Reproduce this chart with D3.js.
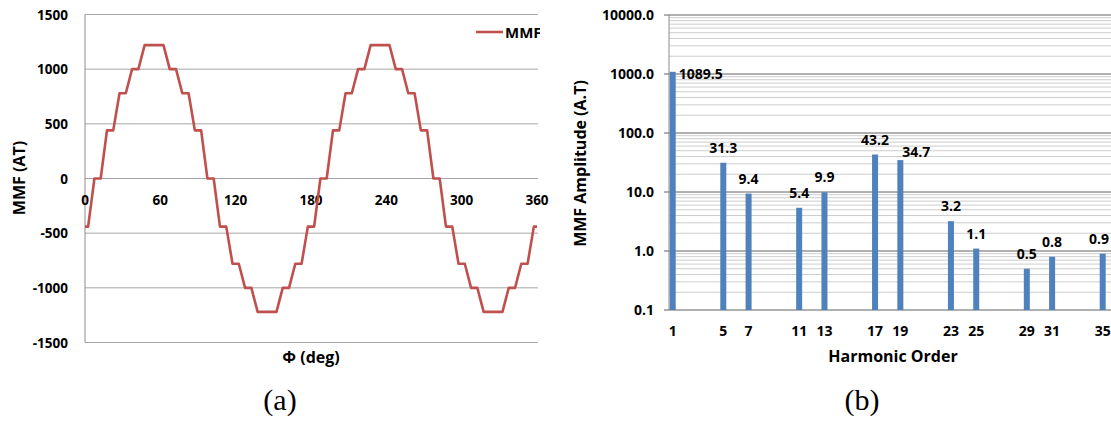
<!DOCTYPE html>
<html>
<head>
<meta charset="utf-8">
<script src="https://cdn.jsdelivr.net/npm/d3@7"></script>
<style>
  body { margin: 0; background: #fff; }
  text { font-family: "Open Sans", sans-serif; font-weight: bold; fill: #000; }
</style>
</head>
<body>
<div id="chart"></div>
<script>
// (a) MMF waveform, vertices
var mmfAngle = [0, 2.5, 7.5, 12.5, 17.5, 22.5, 27.5, 32.5, 37.5, 42.5, 47.5, 52.5, 57.5, 62.5,
  67.5, 72.5, 77.5, 82.5, 87.5, 92.5, 97.5, 102.5, 107.5, 112.5, 117.5, 122.5, 127.5, 132.5,
  137.5, 142.5, 147.5, 152.5, 157.5, 162.5, 167.5, 172.5, 177.5, 182.5, 187.5, 192.5, 197.5,
  202.5, 207.5, 212.5, 217.5, 222.5, 227.5, 232.5, 237.5, 242.5, 247.5, 252.5, 257.5, 262.5,
  267.5, 272.5, 277.5, 282.5, 287.5, 292.5, 297.5, 302.5, 307.5, 312.5, 317.5, 322.5, 327.5,
  332.5, 337.5, 342.5, 347.5, 352.5, 357.5, 360];
var mmfValue = [-440, -440, 0, 0, 440, 440, 780, 780, 1000, 1000, 1220, 1220, 1220, 1220,
  1000, 1000, 780, 780, 440, 440, 0, 0, -440, -440, -780, -780, -1000, -1000,
  -1220, -1220, -1220, -1220, -1000, -1000, -780, -780, -440, -440, 0, 0, 440,
  440, 780, 780, 1000, 1000, 1220, 1220, 1220, 1220, 1000, 1000, 780, 780,
  440, 440, 0, 0, -440, -440, -780, -780, -1000, -1000, -1220, -1220, -1220,
  -1220, -1000, -1000, -780, -780, -440, -440];
var angleTicks = [0, 60, 120, 180, 240, 300, 360];
var mmfTicks = [-1500, -1000, -500, 0, 500, 1000, 1500];

// (b) harmonic spectrum
var harmonics = [1, 5, 7, 11, 13, 17, 19, 23, 25, 29, 31, 35];
var amplitudes = [1089.5, 31.3, 9.4, 5.4, 9.9, 43.2, 34.7, 3.2, 1.1, 0.5, 0.8, 0.9];
var ampTicks = [0.1, 1, 10, 100, 1000, 10000];

var W = 1111, H = 421;
var svg = d3.select("#chart").append("svg").attr("width", W).attr("height", H);
svg.append("rect").attr("width", W).attr("height", H).attr("fill", "#fff");

// ---------- (a) ----------
var xa = d3.scaleLinear().domain([0, 360]).range([85, 537]);
var ya = d3.scaleLinear().domain([-1500, 1500]).range([342.5, 14.5]);

// 图例文字在原图里被右边截掉
svg.append("defs").append("clipPath").attr("id", "clipA")
  .append("rect").attr("x", 0).attr("y", 0).attr("width", 540).attr("height", 60);
var ga = svg.append("g");

// 横向网格
ga.selectAll(".hgrid").data(mmfTicks).enter().append("line")
  .attr("x1", xa(0)).attr("x2", 538)
  .attr("y1", ya).attr("y2", ya)
  .attr("stroke", "#a6a6a6").attr("stroke-width", 1);
// 左轴线
ga.append("line").attr("x1", xa(0)).attr("x2", xa(0))
  .attr("y1", ya(1500)).attr("y2", ya(-1500))
  .attr("stroke", "#8c8c8c").attr("stroke-width", 1);

ga.selectAll(".ylab").data(mmfTicks).enter().append("text")
  .attr("x", 68).attr("y", function (d) { return ya(d) + 5; })
  .attr("text-anchor", "end").attr("font-size", 13.5).text(function (d) { return d; });

ga.selectAll(".xlab").data(angleTicks).enter().append("text")
  .attr("x", xa).attr("y", ya(0) + 26)
  .attr("text-anchor", "middle").attr("font-size", 13.5).text(function (d) { return d; });

var mmfLine = d3.line()
  .x(function (d, i) { return xa(mmfAngle[i]); })
  .y(function (d) { return ya(d); });
ga.append("path").attr("d", mmfLine(mmfValue))
  .attr("fill", "none").attr("stroke", "#c0504d")
  .attr("stroke-width", 2.6).attr("stroke-linejoin", "round");

// 图例
var leg = ga.append("g").attr("clip-path", "url(#clipA)");
leg.append("line").attr("x1", 476).attr("x2", 503).attr("y1", 32).attr("y2", 32)
  .attr("stroke", "#c0504d").attr("stroke-width", 2.6);
leg.append("text").attr("x", 505).attr("y", 37.5).attr("font-size", 15).text("MMF");

svg.append("text").attr("transform", "translate(25,178) rotate(-90)")
  .attr("text-anchor", "middle").attr("font-size", 16).text("MMF (AT)");
svg.append("text").attr("x", 311).attr("y", 363)
  .attr("text-anchor", "middle").attr("font-size", 16).text("Φ (deg)");
svg.append("text").attr("x", 280).attr("y", 410)
  .attr("text-anchor", "middle").attr("font-size", 30)
  .style("font-family", "'Liberation Serif', serif").style("font-weight", "normal")
  .text("(a)");

// ---------- (b) ----------
var xb = d3.scaleLinear().domain([1, 35]).range([672.7, 1102.7]);
var yb = d3.scaleLog().domain([0.1, 10000]).range([310, 15]);

// 次网格线
var minor = [];
ampTicks.slice(0, -1).forEach(function (d) {
  for (var k = 2; k <= 9; k++) minor.push(d * k);
});
svg.selectAll(".minor").data(minor).enter().append("line")
  .attr("x1", 669).attr("x2", W)
  .attr("y1", yb).attr("y2", yb)
  .attr("stroke", "#cdcdcd").attr("stroke-width", 1);
svg.selectAll(".major").data(ampTicks).enter().append("line")
  .attr("x1", 664).attr("x2", W)
  .attr("y1", yb).attr("y2", yb)
  .attr("stroke", "#969696").attr("stroke-width", 1.3);
svg.append("line").attr("x1", 669).attr("x2", 669)
  .attr("y1", yb(10000)).attr("y2", yb(0.1))
  .attr("stroke", "#8c8c8c").attr("stroke-width", 1);

svg.selectAll(".ylabB").data(ampTicks).enter().append("text")
  .attr("x", 654).attr("y", function (d) { return yb(d) + 5; })
  .attr("text-anchor", "end").attr("font-size", 14).text(d3.format(".1f"));

svg.selectAll(".xlabB").data(harmonics).enter().append("text")
  .attr("x", xb).attr("y", 336)
  .attr("text-anchor", "middle").attr("font-size", 14).text(function (d) { return d; });

var barW = 6;
svg.selectAll(".bar").data(amplitudes).enter().append("rect")
  .attr("x", function (d, i) { return xb(harmonics[i]) - barW / 2; })
  .attr("y", function (d) { return yb(d); })
  .attr("width", barW)
  .attr("height", function (d) { return yb(0.1) - yb(d); })
  .attr("fill", "#4f81bd");

// 数据标签，个别标签像原图一样挪开
svg.selectAll(".val").data(amplitudes).enter().append("text")
  .attr("x", function (d, i) {
    if (i === 0) return xb(harmonics[i]) + 6;
    if (harmonics[i] === 19) return xb(harmonics[i]) + 16;
    return Math.min(xb(harmonics[i]), W - 12);
  })
  .attr("y", function (d, i) {
    if (i === 0) return yb(d) + 7;
    if (harmonics[i] === 19) return yb(d) - 3;
    return yb(d) - 10;
  })
  .attr("text-anchor", function (d, i) { return i === 0 ? "start" : "middle"; })
  .attr("font-size", 14).text(d3.format(".1f"));

svg.append("text").attr("transform", "translate(586,163.5) rotate(-90)")
  .attr("text-anchor", "middle").attr("font-size", 16).text("MMF Amplitude (A.T)");
svg.append("text").attr("x", 893).attr("y", 362)
  .attr("text-anchor", "middle").attr("font-size", 16).text("Harmonic Order");
svg.append("text").attr("x", 862).attr("y", 410)
  .attr("text-anchor", "middle").attr("font-size", 30)
  .style("font-family", "'Liberation Serif', serif").style("font-weight", "normal")
  .text("(b)");
</script>
</body>
</html>
